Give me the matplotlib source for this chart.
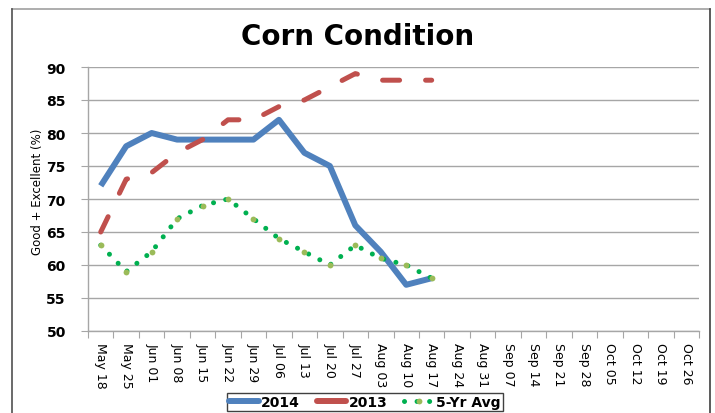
import matplotlib
matplotlib.use("Agg")
import matplotlib.pyplot as plt
from matplotlib.lines import Line2D

categories = ["May 18", "May 25", "Jun 01", "Jun 08", "Jun 15", "Jun 22", "Jun 29",
              "Jul 06", "Jul 13", "Jul 20", "Jul 27", "Aug 03", "Aug 10", "Aug 17",
              "Aug 24", "Aug 31", "Sep 07", "Sep 14", "Sep 21", "Sep 28", "Oct 05",
              "Oct 12", "Oct 19", "Oct 26"]
y2014 = [72, 78, 80, 79, 79, 79, 79, 82, 77, 75, 66, 62, 57, 58]
y2013 = [65, 73, 74, 77, 79, 82, 82, 84, 85, 87, 89, 88, 88, 88]
avg5 = [63, 59, 62, 67, 69, 70, 67, 64, 62, 60, 63, 61, 60, 58]
yticks = [50, 55, 60, 65, 70, 75, 80, 85, 90]

plt.rcParams['font.family'] = ['DejaVu Sans']

W, H = 715, 414
fig = plt.figure(figsize=(W / 100, H / 100), dpi=100)
ax = fig.add_axes([88 / W, 1 - 332 / H, (699 - 88) / W, (332 - 68) / H])

blue = '#4F81BD'
red = '#C0504D'
green = '#00B050'
olive = '#9BBB59'
grid = '#A6A6A6'

x14 = list(range(len(y2014)))
x13 = list(range(len(y2013)))
x5 = list(range(len(avg5)))

ax.plot(x14, y2014, color=blue, lw=4.3, solid_joinstyle='round', solid_capstyle='butt', zorder=3)
ax.plot(x13, y2013, color=red, lw=3.6, dashes=(3.4, 5.2), dash_capstyle='round',
        dash_joinstyle='round', zorder=3)
ax.plot(x5, avg5, color=green, lw=3.6, dashes=(0.01, 2.5), dash_capstyle='round', zorder=4)
ax.plot(x5, avg5, ls='none', marker='o', ms=4.2, mfc=olive, mec='none', zorder=5)

ax.set_xlim(-0.5, len(categories) - 0.5)
ax.set_ylim(50, 90)
ax.set_yticks(yticks)
ax.set_yticklabels([str(v) for v in yticks], fontsize=10, fontweight='bold')
ax.yaxis.grid(True, color=grid, lw=1)
ax.set_axisbelow(True)

ax.set_xticks([i - 0.5 for i in range(len(categories) + 1)])
ax.set_xticklabels([])
ax.set_xticks(list(range(len(categories))), minor=True)
ax.set_xticklabels(categories, minor=True, rotation=-90, fontsize=9)
ax.tick_params(axis='x', which='major', length=5, color=grid, direction='out')
ax.tick_params(axis='x', which='minor', length=0, pad=8)
ax.tick_params(axis='y', length=5, color=grid, pad=11)

for s in ['top', 'right']:
    ax.spines[s].set_visible(False)
for s in ['left', 'bottom']:
    ax.spines[s].set_color(grid)
    ax.spines[s].set_linewidth(1)

fig.text(358 / W, 1 - 45 / H, 'Corn Condition', ha='center', va='baseline',
         fontsize=20, fontweight='bold')
fig.text(37 / W, 1 - 192 / H, 'Good + Excellent (%)', rotation=90, ha='center',
         va='center', fontsize=8.5)

handles = [
    Line2D([], [], color=blue, lw=4.3, solid_capstyle='round'),
    Line2D([], [], color=red, lw=4.3, solid_capstyle='round'),
    Line2D([], [], color=green, lw=3.6, dashes=(0.01, 2.5), dash_capstyle='round',
           marker='o', ms=4.2, mfc=olive, mec='none'),
]
leg = fig.legend(handles, ['2014', '2013', '5-Yr Avg'], loc='upper center',
                 bbox_to_anchor=(365 / W, 1 - 394 / H), ncol=3, frameon=True,
                 fancybox=False, edgecolor='#404040', framealpha=1,
                 prop={'weight': 'bold', 'size': 10}, handlelength=2.1,
                 handletextpad=0.2, columnspacing=1.2, borderpad=0.15,
                 borderaxespad=0, numpoints=1)
leg.get_frame().set_linewidth(1)

# outer chart border
fig.add_artist(Line2D([12 / W, 710 / W], [1 - 10 / H, 1 - 10 / H], color='#A0A0A0', lw=1.2,
                      transform=fig.transFigure))
fig.add_artist(Line2D([12 / W, 12 / W], [0, 1 - 10 / H], color='#505050', lw=1.2,
                      transform=fig.transFigure))
fig.add_artist(Line2D([710 / W, 710 / W], [0, 1 - 10 / H], color='#404040', lw=1.2,
                      transform=fig.transFigure))

fig.savefig('out.png', dpi=100)
